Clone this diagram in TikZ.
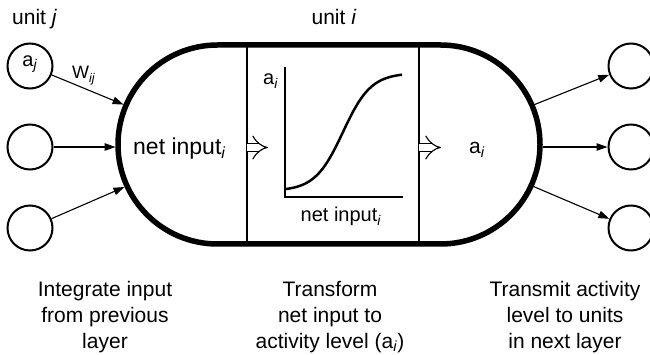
\documentclass[tikz,border=0pt]{standalone}
\usepackage{fontspec}
\setmainfont{Liberation Sans}
\usetikzlibrary{arrows.meta}
\begin{document}
\begin{tikzpicture}[x=1pt,y=-1pt,
  unitc/.style={circle, draw, line width=2pt, minimum size=45pt, inner sep=0pt},
  conn/.style={line width=1.1pt, -{Triangle[length=11pt,width=7.5pt]}},
  thinl/.style={line width=1.2pt},
  lbl/.style={inner sep=0pt, font=\fontsize{21}{26}\selectfont},
  dbl/.style={double, double distance=7.5pt, line width=1.1pt, -{Implies}}]
\useasboundingbox (0,0) rectangle (650,355);
\fill[white] (0,0) rectangle (650,355);
% input units
\node[unitc] (i1) at (30,66) {};
\node[unitc] (i2) at (30,147) {};
\node[unitc] (i3) at (30,228) {};
\node[lbl, font=\fontsize{20}{22}\selectfont] (aj) at (30,64) {a\textsubscript{\textit{j}}};
% output units
\node[unitc] (o1) at (631,66) {};
\node[unitc] (o2) at (631,147) {};
\node[unitc] (o3) at (631,228) {};
% unit i body
\draw[line width=5.5pt, rounded corners=99.5pt] (118,45) rectangle (540,244);
\draw[thinl] (247,46) -- (247,243);
\draw[thinl] (419,46) -- (419,243);
% border points
\coordinate (e1) at (123.6,104.6);
\coordinate (e2) at (115.5,147);
\coordinate (e3) at (124.5,187);
\coordinate (r1) at (534.4,104.6);
\coordinate (r2) at (542.5,147);
\coordinate (r3) at (533.5,186.5);
\draw[conn] (i1) -- (e1);
\draw[conn] (i2) -- (e2);
\draw[conn] (i3) -- (e3);
\draw[conn] (r1) -- (o1);
\draw[conn] (r2) -- (o2);
\draw[conn] (r3) -- (o3);
% inner arrows
\coordinate (d1s) at (247,147.5);
\coordinate (d1e) at (268,147.5);
\coordinate (d2s) at (419,147.5);
\coordinate (d2e) at (441,147.5);
\draw[dbl] (d1s) -- (d1e);
\draw[dbl] (d2s) -- (d2e);
% graph
\draw[thinl] (285,67) -- (285,197) -- (403,197);
\draw[line width=2.5pt, domain=285:402, samples=80, smooth] plot (\x, {191-118/(1+exp(-(\x-343)/14))});
% labels
\node[lbl, anchor=base west] (uj) at (12,25) {unit \textit{j}};
\node[lbl, anchor=base] (ui) at (334,25) {unit \textit{i}};
\node[lbl, font=\fontsize{18}{20}\selectfont, anchor=base west] (w) at (72,79) {W\textsubscript{\textit{ij}}};
\node[lbl, font=\fontsize{23}{26}\selectfont, anchor=base west] (ni) at (133,155) {net input\textsubscript{\textit{i}}};
\node[lbl, font=\fontsize{20}{24}\selectfont, anchor=base west] (ga) at (263,85) {a\textsubscript{\textit{i}}};
\node[lbl, font=\fontsize{20}{24}\selectfont, anchor=base] (gn) at (341,222) {net input\textsubscript{\textit{i}}};
\node[lbl, font=\fontsize{21}{24}\selectfont, anchor=base west] (ai) at (469,154) {a\textsubscript{\textit{i}}};
% captions (base anchor = last line baseline)
\node[lbl, align=center, anchor=base] (t1) at (105,348) {Integrate input\\from previous\\layer};
\node[lbl, align=center, anchor=base] (t2) at (330,348) {Transform\\net input to\\activity level (a\textsubscript{\textit{i}})};
\node[lbl, align=center, anchor=base] (t3) at (565,348) {Transmit activity\\level to units\\in next layer};
\end{tikzpicture}
\end{document}
